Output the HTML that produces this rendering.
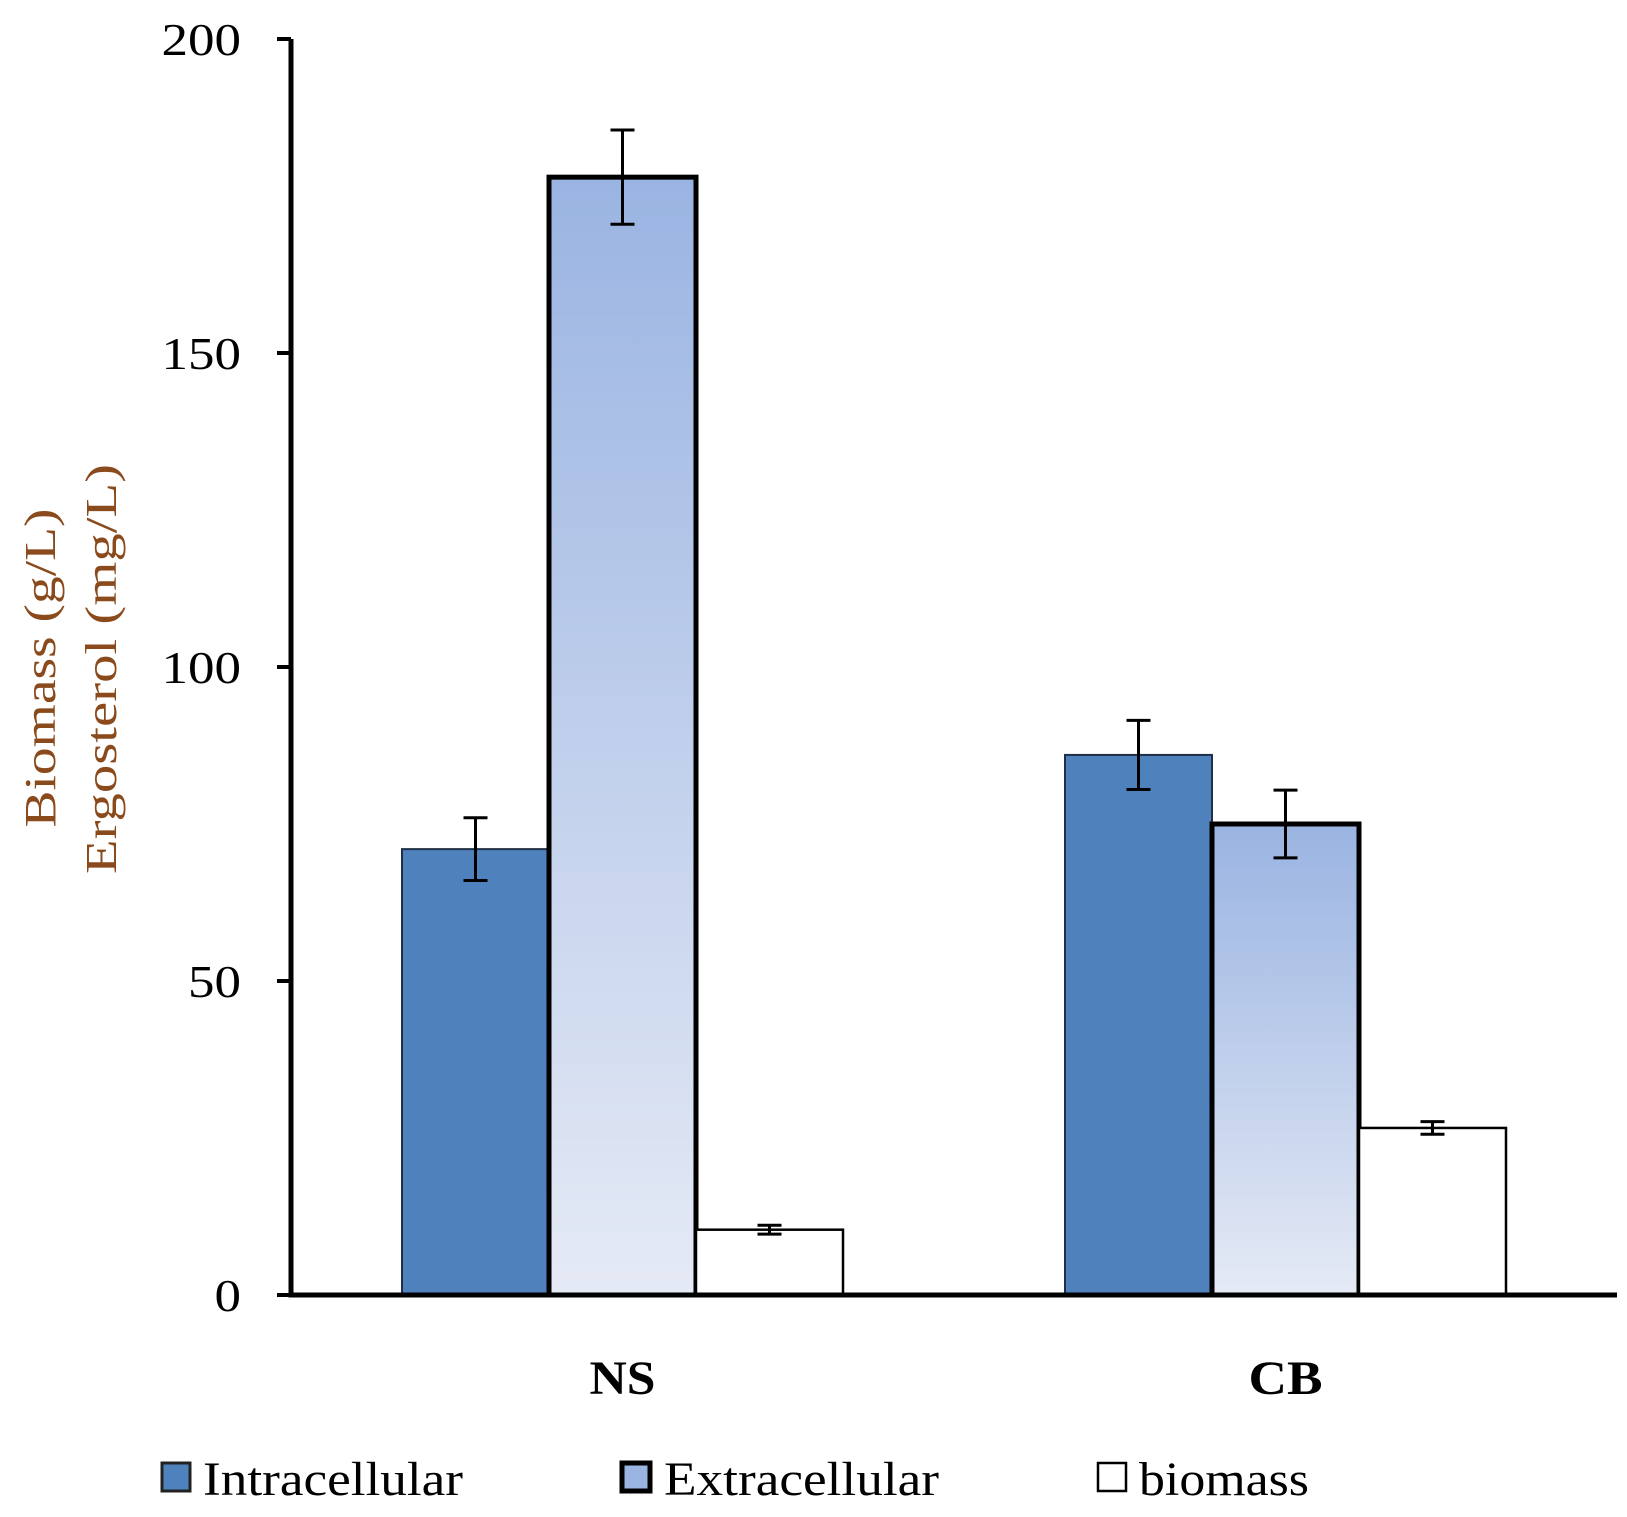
<!DOCTYPE html>
<html><head><meta charset="utf-8"><style>
html,body{margin:0;padding:0;background:#fff;}
svg{display:block;font-family:"Liberation Serif",serif;}
</style></head><body>
<svg id="chart" width="1627" height="1517" viewBox="0 0 1627 1517" xmlns="http://www.w3.org/2000/svg">
<defs>
<linearGradient id="gExtra" x1="0" y1="0" x2="0" y2="1">
<stop offset="0" stop-color="#9ab4e2"/><stop offset="1" stop-color="#e5eaf5"/>
</linearGradient>
</defs>
<g id="plot"></g>
<text transform="translate(55,668) rotate(-90)" text-anchor="middle" font-size="44" fill="#8a4a1c" textLength="319" lengthAdjust="spacingAndGlyphs">Biomass (g/L)</text>
<text transform="translate(116,669) rotate(-90)" text-anchor="middle" font-size="44" fill="#8a4a1c" textLength="410" lengthAdjust="spacingAndGlyphs">Ergosterol (mg/L)</text>
<g>
<rect x="162" y="1463" width="28" height="28" fill="#4f81bd" stroke="#222" stroke-width="3"/>
<text x="203" y="1495" font-size="48" textLength="260" lengthAdjust="spacingAndGlyphs">Intracellular</text>
<rect x="622" y="1463" width="28" height="28" fill="#9ab4e2" stroke="#000" stroke-width="5"/>
<text x="664" y="1495" font-size="48" textLength="275" lengthAdjust="spacingAndGlyphs">Extracellular</text>
<rect x="1098" y="1463" width="28" height="28" fill="#fff" stroke="#000" stroke-width="2.5"/>
<text x="1139" y="1495" font-size="48" textLength="170" lengthAdjust="spacingAndGlyphs">biomass</text>
</g>
</svg>
<script>
const categories = ["NS", "CB"];
const intracellular = [71, 86];
const intracellularErr = [5, 5.5];
const extracellular = [178, 75];
const extracellularErr = [7.5, 5.4];
const biomass = [10.4, 26.6];
const biomassErr = [0.7, 1];
const yTicks = [0, 50, 100, 150, 200];

const NS = "http://www.w3.org/2000/svg";
const g = document.getElementById('plot');
const X0 = 291, X1 = 1617, Y0 = 1295, Y1 = 39, YMAX = 200;
const y = v => Y0 - (v / YMAX) * (Y0 - Y1);
const band = (X1 - X0) / categories.length;
const xc = i => X0 + band * (i + 0.5);
const BW = 147;
function mk(tag, attrs) { const e = document.createElementNS(NS, tag); for (const k in attrs) e.setAttribute(k, attrs[k]); g.appendChild(e); return e; }

const series = [
  {vals: intracellular, err: intracellularErr, fill: "#4f81bd", stroke: "#1f2f45", sw: 2, name: "intracellular"},
  {vals: extracellular, err: extracellularErr, fill: "url(#gExtra)", stroke: "#000", sw: 5, name: "extracellular"},
  {vals: biomass, err: biomassErr, fill: "#fff", stroke: "#000", sw: 2.5, name: "biomass"}
];
series.forEach((s, si) => {
  categories.forEach((c, i) => {
    const left = xc(i) - 1.5 * BW + si * BW;
    const r = mk('rect', {x: left, y: y(s.vals[i]), width: BW, height: Y0 - y(s.vals[i]), fill: s.fill, stroke: s.stroke, 'stroke-width': s.sw});
    
    
  });
});
series.forEach((s, si) => {
  categories.forEach((c, i) => {
    const cx = xc(i) - BW + si * BW;
    const hi = y(s.vals[i] + s.err[i]), lo = y(s.vals[i] - s.err[i]);
    const e = mk('path', {d: `M${cx},${hi}V${lo}M${cx-12},${hi}H${cx+12}M${cx-12},${lo}H${cx+12}`, stroke: "#000", 'stroke-width': 3, fill: "none"});
    
    
  });
});
const ax = mk('path', {d: `M${X0},${Y1}V${Y0}H${X1}`, stroke: "#000", 'stroke-width': 5, fill: "none"});


yTicks.forEach(t => {
  const tk = mk('line', {x1: X0 - 14, x2: X0, y1: y(t), y2: y(t), stroke: "#000", 'stroke-width': 4});
  
  
  const s = String(t);
  const tl = mk('text', {x: 241, y: y(t) + 16, 'text-anchor': 'end', 'font-size': 46, textLength: 26.5 * s.length, lengthAdjust: 'spacingAndGlyphs'});
  tl.textContent = s;
  
  
});
const catWidths = [66, 74];
categories.forEach((c, i) => {
  const t = mk('text', {x: xc(i), y: 1394, 'text-anchor': 'middle', 'font-size': 48, 'font-weight': 'bold', textLength: c === "NS" ? 66 : 74, lengthAdjust: 'spacingAndGlyphs'});
  t.textContent = c;
  
  
});
</script>
</body></html>
